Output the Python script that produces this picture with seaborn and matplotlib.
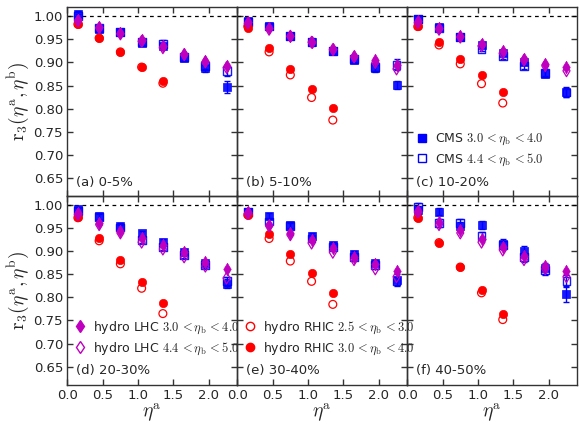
import numpy as np
import pandas as pd
import matplotlib
matplotlib.use("Agg")
import matplotlib.pyplot as plt
import seaborn as sns
from matplotlib.lines import Line2D

# ---------------- data ----------------
eta_a = [0.15, 0.45, 0.75, 1.05, 1.35, 1.65, 1.95, 2.25]
eta_rhic = [0.15, 0.45, 0.75, 1.05, 1.35]
panel_labels = ["(a) 0-5%", "(b) 5-10%", "(c) 10-20%",
                "(d) 20-30%", "(e) 30-40%", "(f) 40-50%"]

cms_filled = [
    [1.005, 0.972, 0.966, 0.943, 0.936, 0.910, 0.887, 0.847],
    [0.991, 0.980, 0.958, 0.945, 0.926, 0.905, 0.887, 0.851],
    [0.994, 0.977, 0.956, 0.938, 0.921, 0.902, 0.876, 0.836],
    [0.991, 0.977, 0.955, 0.939, 0.921, 0.899, 0.875, 0.830],
    [0.986, 0.977, 0.957, 0.933, 0.914, 0.894, 0.874, 0.838],
    [0.990, 0.986, 0.955, 0.957, 0.917, 0.901, 0.863, 0.807],
]
cms_filled_err = [
    [0.006, 0.006, 0.006, 0.006, 0.007, 0.007, 0.008, 0.013],
    [0.006, 0.006, 0.005, 0.006, 0.006, 0.006, 0.007, 0.008],
    [0.006, 0.006, 0.006, 0.006, 0.006, 0.007, 0.007, 0.010],
    [0.006, 0.006, 0.006, 0.006, 0.006, 0.007, 0.007, 0.010],
    [0.006, 0.006, 0.006, 0.006, 0.007, 0.007, 0.008, 0.012],
    [0.008, 0.008, 0.009, 0.009, 0.009, 0.010, 0.012, 0.016],
]
cms_open = [
    [1.000, 0.975, 0.966, 0.945, 0.940, 0.912, 0.893, 0.881],
    [0.988, 0.978, 0.958, 0.945, 0.925, 0.908, 0.890, 0.895],
    [0.995, 0.975, 0.955, 0.930, 0.915, 0.893, 0.878, 0.835],
    [0.988, 0.975, 0.952, 0.925, 0.910, 0.893, 0.870, 0.835],
    [0.985, 0.965, 0.955, 0.928, 0.910, 0.888, 0.870, 0.835],
    [0.997, 0.962, 0.961, 0.933, 0.914, 0.887, 0.860, 0.836],
]
cms_open_err = [
    [0.006, 0.006, 0.006, 0.006, 0.008, 0.007, 0.008, 0.010],
    [0.006, 0.006, 0.005, 0.006, 0.006, 0.007, 0.008, 0.012],
    [0.006, 0.006, 0.006, 0.006, 0.007, 0.007, 0.008, 0.010],
    [0.006, 0.006, 0.006, 0.006, 0.006, 0.007, 0.007, 0.010],
    [0.006, 0.006, 0.006, 0.006, 0.007, 0.007, 0.008, 0.010],
    [0.009, 0.008, 0.009, 0.009, 0.009, 0.010, 0.011, 0.012],
]
lhc_filled = [
    [0.992, 0.977, 0.963, 0.948, 0.935, 0.919, 0.904, 0.893],
    [0.987, 0.974, 0.958, 0.945, 0.930, 0.915, 0.905, 0.895],
    [0.990, 0.975, 0.957, 0.940, 0.925, 0.908, 0.897, 0.890],
    [0.984, 0.962, 0.945, 0.928, 0.913, 0.898, 0.878, 0.862],
    [0.985, 0.958, 0.940, 0.925, 0.907, 0.888, 0.872, 0.858],
    [0.988, 0.963, 0.947, 0.927, 0.910, 0.889, 0.868, 0.858],
]
lhc_open = [
    [0.990, 0.975, 0.962, 0.946, 0.932, 0.917, 0.901, 0.889],
    [0.985, 0.972, 0.957, 0.944, 0.928, 0.912, 0.900, 0.886],
    [0.986, 0.972, 0.955, 0.936, 0.920, 0.905, 0.893, 0.882],
    [0.980, 0.958, 0.940, 0.920, 0.905, 0.888, 0.868, 0.842],
    [0.982, 0.955, 0.936, 0.918, 0.898, 0.882, 0.862, 0.845],
    [0.985, 0.958, 0.940, 0.920, 0.903, 0.882, 0.862, 0.845],
]
rhic_filled = [
    [0.984, 0.954, 0.923, 0.891, 0.860],
    [0.975, 0.931, 0.886, 0.843, 0.801],
    [0.980, 0.945, 0.908, 0.872, 0.836],
    [0.974, 0.928, 0.881, 0.834, 0.787],
    [0.979, 0.937, 0.894, 0.852, 0.809],
    [0.973, 0.919, 0.866, 0.816, 0.765],
]
rhic_open = [
    [0.983, 0.953, 0.923, 0.890, 0.855],
    [0.978, 0.923, 0.873, 0.824, 0.775],
    [0.978, 0.938, 0.897, 0.854, 0.812],
    [0.973, 0.923, 0.873, 0.820, 0.765],
    [0.979, 0.928, 0.879, 0.835, 0.785],
    [0.973, 0.919, 0.866, 0.810, 0.752],
]

lab_cms1 = r"CMS $3.0\,{<}\eta_{\rm b}\,{<}4.0$"
lab_cms2 = r"CMS $4.4\,{<}\eta_{\rm b}\,{<}5.0$"
lab_lhc1 = r"hydro LHC $3.0\,{<}\eta_{\rm b}\,{<}4.0$"
lab_lhc2 = r"hydro LHC $4.4\,{<}\eta_{\rm b}\,{<}5.0$"
lab_rhic1 = r"hydro RHIC $2.5\,{<}\eta_{\rm b}\,{<}3.0$"
lab_rhic2 = r"hydro RHIC $3.0\,{<}\eta_{\rm b}\,{<}4.0$"

# ---------------- style ----------------
sns.set_theme(style="ticks")
plt.rcParams["font.family"] = ["DejaVu Sans"]
plt.rcParams["mathtext.fontset"] = "cm"
plt.rcParams["axes.linewidth"] = 1.0
plt.rcParams["xtick.direction"] = "in"
plt.rcParams["ytick.direction"] = "in"

BLUE = "#0000ff"
RED = "#ff0000"
PURP = "#bf00bf"

fig, axes = plt.subplots(2, 3, figsize=(5.8, 4.24), dpi=100, sharex=True, sharey=True)
fig.subplots_adjust(left=0.116, right=0.995, top=0.983, bottom=0.092, wspace=0, hspace=0)

for i, ax in enumerate(axes.flat):
    ax.set_facecolor("none")
    ax.axhline(1.0, color="black", ls=(0, (3, 3)), lw=0.9, zorder=1)
    ax.errorbar(eta_a, cms_filled[i], yerr=cms_filled_err[i], fmt="none",
                ecolor=BLUE, elinewidth=1.0, capsize=2, capthick=1.0, zorder=2)
    ax.errorbar(eta_a, cms_open[i], yerr=cms_open_err[i], fmt="none",
                ecolor=BLUE, elinewidth=1.0, capsize=2, capthick=1.0, zorder=2)
    d = pd.DataFrame({"x": eta_a, "cf": cms_filled[i], "co": cms_open[i],
                      "lf": lhc_filled[i], "lo": lhc_open[i]})
    r = pd.DataFrame({"x": eta_rhic, "rf": rhic_filled[i], "ro": rhic_open[i]})
    sns.scatterplot(data=d, x="x", y="cf", ax=ax, marker="s", s=38, color=BLUE,
                    edgecolor=BLUE, linewidth=0.5, alpha=0.9, zorder=3)
    sns.scatterplot(data=d, x="x", y="co", ax=ax, marker="s", s=32, facecolor="none",
                    edgecolor=BLUE, linewidth=1.0, alpha=0.9, zorder=3)
    sns.scatterplot(data=r, x="x", y="ro", ax=ax, marker="o", s=32, facecolor="none",
                    edgecolor=RED, linewidth=0.9, zorder=4)
    sns.scatterplot(data=r, x="x", y="rf", ax=ax, marker="o", s=36, color=RED,
                    edgecolor=RED, linewidth=0.5, zorder=4)
    ax.errorbar(eta_a, lhc_filled[i], yerr=0.004, fmt="none", ecolor=PURP,
                elinewidth=0.9, capsize=1.5, zorder=5)
    sns.scatterplot(data=d, x="x", y="lf", ax=ax, marker="d", s=40, color=PURP,
                    edgecolor=PURP, linewidth=0.5, zorder=6)
    sns.scatterplot(data=d, x="x", y="lo", ax=ax, marker="d", s=36, facecolor="none",
                    edgecolor=PURP, linewidth=0.9, zorder=6)

    ax.set_xlim(0, 2.4)
    ax.set_ylim(0.61, 1.02)
    ax.set_xticks([0.0, 0.5, 1.0, 1.5, 2.0])
    ax.set_yticks([0.65, 0.70, 0.75, 0.80, 0.85, 0.90, 0.95, 1.00])
    ax.tick_params(top=True, right=True, length=4, width=1, labelsize=9.5, pad=3,
                   color="#333333")
    for s in ax.spines.values():
        s.set_color("#333333")
    ax.set_xlabel("")
    ax.set_ylabel("")
    ax.text(0.05, 0.04, panel_labels[i], transform=ax.transAxes, fontsize=9.5,
            ha="left", va="bottom")

for ax in axes[1]:
    ax.xaxis.set_major_formatter(matplotlib.ticker.FormatStrFormatter("%.1f"))
    ax.set_xlabel(r"$\eta^{\rm a}$", fontsize=14, labelpad=0)
for ax in axes[:, 0]:
    ax.yaxis.set_major_formatter(matplotlib.ticker.FormatStrFormatter("%.2f"))
    ax.set_ylabel(r"$\mathrm{r}_3(\eta^{\rm a},\eta^{\rm b})$", fontsize=14, labelpad=2)

def mk(marker, color, filled, ms):
    return Line2D([], [], ls="none", marker=marker, ms=ms,
                  markerfacecolor=color if filled else "none",
                  markeredgecolor=color, markeredgewidth=1.0)

leg_kw = dict(frameon=False, fontsize=9.0, loc="lower left", handletextpad=0.45,
              labelspacing=0.35, borderaxespad=0.2, handlelength=1.2)
legs = []
legs.append(axes[0, 2].legend([mk("s", BLUE, True, 5.5), mk("s", BLUE, False, 5.5)],
                  [lab_cms1, lab_cms2], bbox_to_anchor=(0.0, 0.11), **leg_kw))
legs.append(axes[1, 0].legend([mk("d", PURP, True, 6.5), mk("d", PURP, False, 6.5)],
                  [lab_lhc1, lab_lhc2], bbox_to_anchor=(-0.015, 0.11), **leg_kw))
legs.append(axes[1, 1].legend([mk("o", RED, False, 6), mk("o", RED, True, 6)],
                  [lab_rhic1, lab_rhic2], bbox_to_anchor=(-0.015, 0.11), **leg_kw))
for lg in legs:
    lg.set_zorder(20)

fig.savefig("out.png", dpi=100)
